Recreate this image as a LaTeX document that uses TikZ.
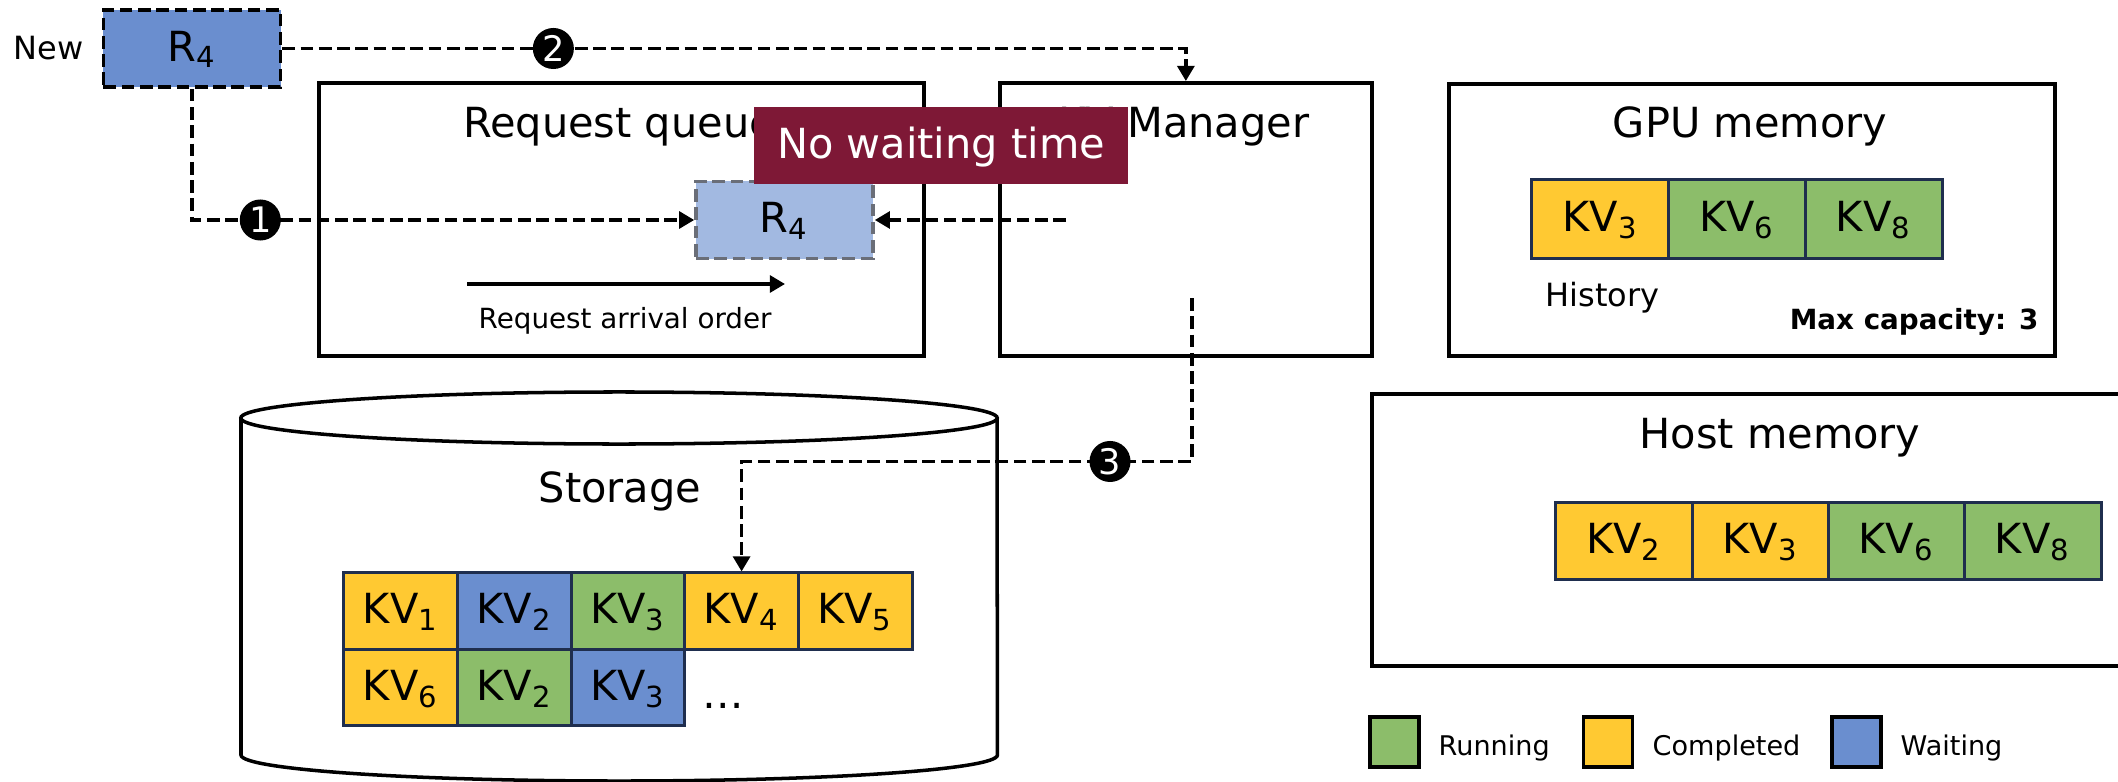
\documentclass[tikz,border=0pt]{standalone}
\usepackage{fontspec}
\setmainfont{DejaVu Sans}
\usetikzlibrary{arrows.meta,calc}

\definecolor{kvgreen}{HTML}{8CBD6A}
\definecolor{kvyellow}{HTML}{FFC932}
\definecolor{kvblue}{HTML}{6A8ECF}
\definecolor{reqlight}{HTML}{A2B9E1}
\definecolor{bannerred}{HTML}{7E1836}
\definecolor{cellline}{HTML}{1F2E4E}
\definecolor{dashgray}{HTML}{6A6E78}

\newcommand{\bigtxt}{\fontsize{11.8}{14}\selectfont}
\newcommand{\midtxt}{\fontsize{9.1}{11}\selectfont}
\newcommand{\smalltxt}{\fontsize{7.9}{9.5}\selectfont}

\tikzset{
  panel/.style={draw, line width=1pt, anchor=north west, inner sep=0pt},
  paneltitle/.style={anchor=base, font=\bigtxt, inner sep=0pt},
  note/.style={inner sep=0pt},
  kv/.style={draw=cellline, line width=0.85pt, minimum width=1.136cm, minimum height=0.76cm,
    inner sep=0pt, text height=0.73em, text depth=0pt, font=\bigtxt},
  req/.style={minimum width=1.77cm, minimum height=0.77cm, inner sep=0pt, line width=1pt,
    text height=0.73em, text depth=0pt, font=\bigtxt, dash pattern=on 3.6pt off 1.6pt},
  flow/.style={line width=1pt, dash pattern=on 3.6pt off 1.6pt, -{Triangle[length=4.3pt,width=4.8pt]}},
  num/.style={circle, fill=black, text=white, inner sep=0pt, minimum size=0.41cm, font=\fontsize{10}{10}\selectfont},
  legsq/.style={draw, line width=1.1pt, minimum width=0.49cm, minimum height=0.5cm, inner sep=0pt},
  legtxt/.style={anchor=base west, inner sep=0pt, font=\fontsize{7.7}{9}\selectfont}
}

\begin{document}
\begin{tikzpicture}[x=0.01cm, y=-0.01cm]
\useasboundingbox (0,0) rectangle (2118,782);

% panels
\node[panel, minimum width=6.05cm, minimum height=2.73cm] (rq) at (317,81) {};
\node[paneltitle] (rqt) at (619,138) {Request queue};
\node[panel, minimum width=3.72cm, minimum height=2.73cm] (kvm) at (998,81) {};
\node[paneltitle] (kvmt) at (1184,138) {KV Manager};
\node[panel, minimum width=6.06cm, minimum height=2.72cm] (gpu) at (1447,82) {};
\node[paneltitle] (gput) at (1750,138) {GPU memory};
\node[panel, minimum width=7.6cm, minimum height=2.72cm] (host) at (1370,392) {};
\node[paneltitle] (hostt) at (1780,448) {Host memory};

% new request
\node[note, anchor=base west, font=\midtxt] (newlbl) at (13,60) {New};
\node[req, fill=kvblue, draw=black] (new) at (192,48.5) {R\textsubscript{4}};
\node[req, fill=reqlight, draw=dashgray] (rq4) at (784.5,220) {R\textsubscript{4}};

\coordinate (ordfrom) at (467,284);
\coordinate (ordto) at (785,284);
\draw[line width=1pt, -{Triangle[length=4.3pt,width=4.8pt]}] (ordfrom) -- (ordto);
\node[note, anchor=base west, font=\smalltxt] (ordlbl) at (478,328) {Request arrival order};

% gpu memory
\foreach \i/\n/\c in {1/3/kvyellow, 2/6/kvgreen, 3/8/kvgreen}
  \node[kv, fill=\c, minimum width=1.367cm, minimum height=0.78cm] (g\i) at ({1532+136.7*(\i-0.5)},219) {KV\textsubscript{\n}};
\node[note, anchor=base west, font=\midtxt] (hist) at (1545,307) {History};
\node[note, anchor=base east, font=\bfseries\smalltxt] (cap) at (2039,330) {Max capacity: 3};

% host memory
\foreach \i/\n/\c in {1/2/kvyellow, 2/3/kvyellow, 3/6/kvgreen, 4/8/kvgreen}
  \node[kv, fill=\c, minimum width=1.3625cm] (h\i) at ({1556+136.25*(\i-0.5)},541) {KV\textsubscript{\n}};

% storage
\draw[line width=1pt] (241,418) -- (241,755) arc[start angle=180, end angle=360, x radius=3.78cm, y radius=0.26cm] -- (997,418);
\draw[line width=1pt] (619,418) ellipse[x radius=3.78cm, y radius=0.26cm];
\node[paneltitle] (stt) at (620,502) {Storage};
\foreach \i/\n/\c in {1/1/kvyellow, 2/2/kvblue, 3/3/kvgreen, 4/4/kvyellow, 5/5/kvyellow}
  \node[kv, fill=\c] (s\i) at ({344+113.6*(\i-0.5)},611) {KV\textsubscript{\n}};
\foreach \i/\n/\c in {6/6/kvyellow, 7/2/kvgreen, 8/3/kvblue}
  \node[kv, fill=\c] (s\i) at ({344+113.6*(\i-5.5)},687.5) {KV\textsubscript{\n}};
\node[note, anchor=base, font=\bigtxt] (sdots) at (723,708) {\dots};

% flows
\draw[flow] (new.south) |- node[num, pos=0.568] (c1) {1} (rq4.west);
\draw[flow] (new.east) -| node[num, pos=0.15] (c2) {2} (kvm.north);
\coordinate (kvmout) at (1066,220);
\draw[flow] (kvmout) -- (rq4.east);
\coordinate (kvmdown) at (1192,298);
\draw[flow] (kvmdown) |- node[num, pos=0.591] (c3) {3} ($(s4.north)+(0,-110)$) -- (s4.north);

\node[fill=bannerred, text=white, minimum width=3.74cm, minimum height=0.77cm, inner sep=0pt,
  text height=0.73em, text depth=0pt, font=\bigtxt] (nowait) at (941,145.5) {No waiting time};

% legend
\node[legsq, fill=kvgreen] (lg1) at (1394.5,742) {};
\node[legtxt] (lt1) at (1438,755) {Running};
\node[legsq, fill=kvyellow] (lg2) at (1608,742) {};
\node[legtxt] (lt2) at (1652,755) {Completed};
\node[legsq, fill=kvblue] (lg3) at (1856.5,742) {};
\node[legtxt] (lt3) at (1900,755) {Waiting};
\end{tikzpicture}
\end{document}
